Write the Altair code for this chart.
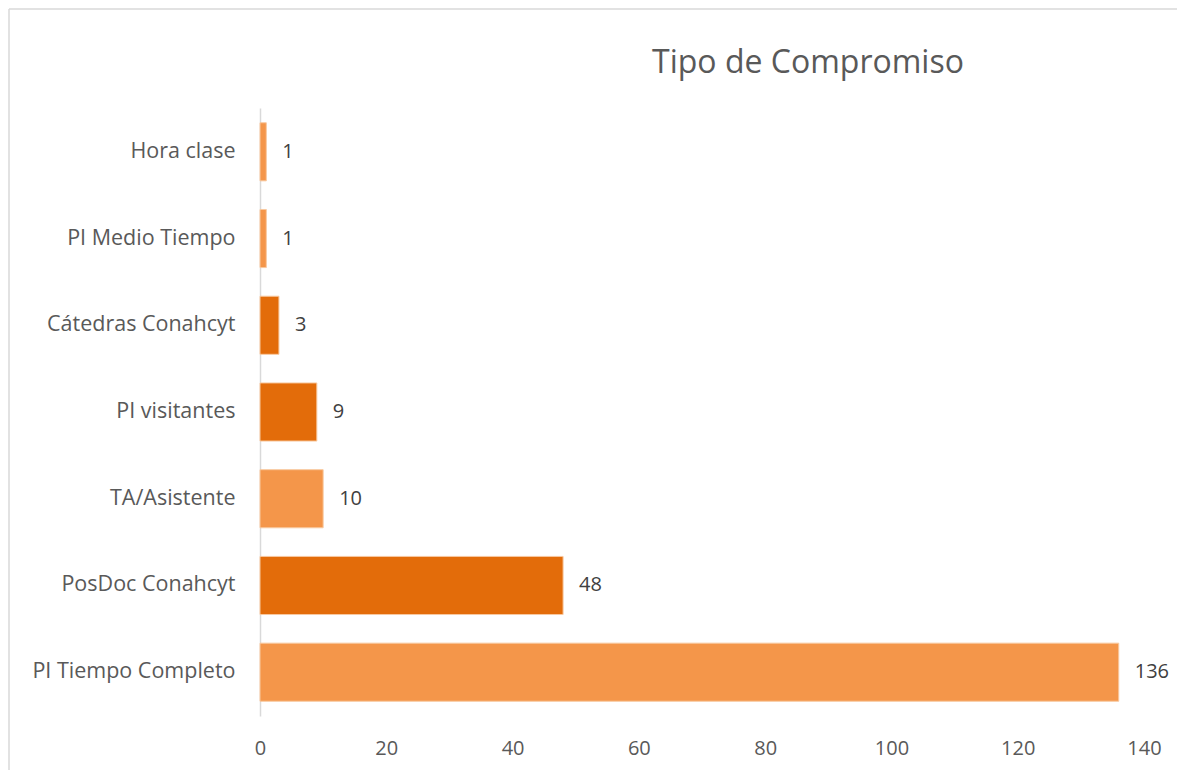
import altair as alt
import pandas as pd

categories = ["Hora clase", "PI Medio Tiempo", "Cátedras Conahcyt", "PI visitantes",
              "TA/Asistente", "PosDoc Conahcyt", "PI Tiempo Completo"]
values = [1, 1, 3, 9, 10, 48, 136]
shade = ["light", "light", "dark", "dark", "light", "dark", "light"]
x_ticks = [0, 20, 40, 60, 80, 100, 120, 140]
title_text = "Tipo de Compromiso"

df = pd.DataFrame({"cat": categories, "val": values, "shade": shade})
one = pd.DataFrame({"t": [title_text]})

W, H = 884, 608
FONT = "Open Sans"

y_enc = alt.Y("cat:N", sort=categories, title=None,
              scale=alt.Scale(paddingInner=0.33, paddingOuter=0.17),
              axis=alt.Axis(labelFontSize=21.5, labelColor="#595959", labelFont=FONT,
                            labelPadding=25, ticks=False, domainColor="#d9d9d9",
                            domainWidth=1.5, grid=False, labelLimit=400))
x_enc = alt.X("val:Q", title=None,
              scale=alt.Scale(domain=[0, 140], nice=False),
              axis=alt.Axis(values=x_ticks, labelFontSize=20, labelColor="#595959",
                            labelFont=FONT, domain=False, ticks=False, grid=False,
                            labelPadding=22, labelFlush=False))

bars = alt.Chart(df).mark_bar(stroke="#f8c9a0", strokeWidth=1).encode(
    x=x_enc, y=y_enc,
    color=alt.Color("shade:N", scale=alt.Scale(domain=["light", "dark"],
                                               range=["#F4964A", "#E36C0A"]),
                    legend=None),
)

labels = alt.Chart(df).mark_text(align="left", dx=16, fontSize=20, font=FONT,
                                 color="#404040").encode(
    x="val:Q", y=alt.Y("cat:N", sort=categories), text="val:Q"
)

title = alt.Chart(one).mark_text(fontSize=32, font=FONT, color="#595959",
                                 align="center", baseline="middle").encode(
    x=alt.value(548), y=alt.value(-45), text="t:N"
)

frame = alt.Chart(one).mark_rule(color="#d9d9d9", strokeWidth=1.5).encode(
    x=alt.value(-251), x2=alt.value(W + 60), y=alt.value(-99)
)
frame2 = alt.Chart(one).mark_rule(color="#d9d9d9", strokeWidth=1.5).encode(
    x=alt.value(-251), y=alt.value(-99), y2=alt.value(H + 80)
)

chart = alt.layer(frame, frame2, bars, labels, title).properties(
    width=W, height=H,
    autosize=alt.AutoSizeParams(type="none"),
    padding={"left": 252, "top": 100, "right": 33, "bottom": 54},
).configure_view(stroke=None)

chart.save("out.html", embed_options={"renderer": "svg", "actions": False})
